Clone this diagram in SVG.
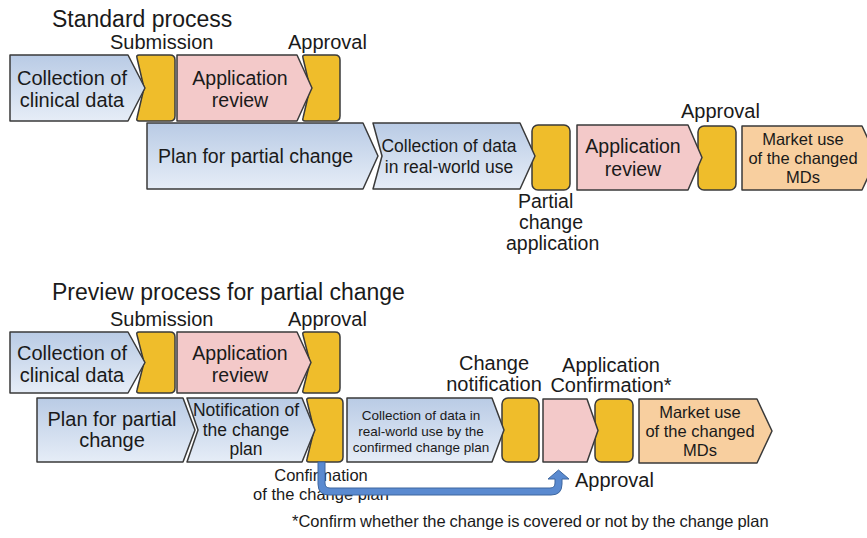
<svg xmlns="http://www.w3.org/2000/svg" width="867" height="538" viewBox="0 0 867 538">
  <defs>
    <linearGradient id="blueFill" x1="0" y1="0" x2="0" y2="1">
      <stop offset="0" stop-color="#b9cbe5"/>
      <stop offset="1" stop-color="#e6edf7"/>
    </linearGradient>
    <style>
      text { font-family: "Liberation Sans", Arial, sans-serif; fill: #1a1a1a; }
      .title { font-size: 23px; }
      .lbl { font-size: 20px; }
      .mid { text-anchor: middle; }
      .shape { stroke: #3a3a3a; stroke-width: 1.5; stroke-linejoin: round; }
      .blue { fill: url(#blueFill); }
      .pink { fill: #f3c9c9; }
      .gold { fill: #efbd2b; }
      .orange { fill: #f8cf9f; }
      .t20 { font-size: 20px; }
      .t19 { font-size: 19.5px; }
      .t17 { font-size: 17.5px; }
      .t16 { font-size: 16.5px; }
      .t13 { font-size: 13.5px; }
      .note { font-size: 16.5px; word-spacing: -0.7px; }
    </style>
  </defs>

  <!-- headings and milestone labels -->
  <text class="title" x="52" y="27">Standard process</text>
  <text class="lbl" x="110" y="49">Submission</text>
  <text class="lbl" x="288" y="49">Approval</text>
  <text class="lbl" x="681" y="118">Approval</text>
  <text class="t19" x="518" y="208">Partial</text>
  <text class="t19" x="519" y="229">change</text>
  <text class="t19" x="506" y="250">application</text>

  <text class="title" x="52" y="300">Preview process for partial change</text>
  <text class="lbl" x="110" y="326">Submission</text>
  <text class="lbl" x="288" y="326">Approval</text>
  <text class="lbl mid" x="494" y="370">Change</text>
  <text class="lbl mid" x="494" y="391">notification</text>
  <text class="lbl mid" x="611" y="372">Application</text>
  <text class="lbl mid" x="611" y="392">Confirmation*</text>
  <text class="lbl" x="575" y="487">Approval</text>
  <text class="t16 mid" x="321" y="481">Confirmation</text>
  <text class="t16 mid" x="321" y="500">of the change plan</text>
  <text class="note" x="292" y="527">*Confirm whether the change is covered or not by the change plan</text>

  <!-- standard process, row 1 -->
  <g id="std-submission">
    <path class="shape gold" d="M139,55 L170,55 Q175,55 175,60 L175,116 Q175,121 170,121 L139,121 Q136,121 137,118 L144,88 L137,58 Q136,55 139,55 Z"/>
  </g>
  <g id="std-approval-1">
    <path class="shape gold" d="M305,55 L335,55 Q340,55 340,60 L340,116 Q340,121 335,121 L305,121 Q302,121 303,118 L310,88 L303,58 Q302,55 305,55 Z"/>
  </g>
  <g id="std-clinical">
    <polygon class="shape blue" points="10,55 128,55 145,88 128,121 10,121"/>
    <text class="t20 mid" x="72" y="85">Collection of</text>
    <text class="t20 mid" x="72" y="107">clinical data</text>
  </g>
  <g id="std-review-1">
    <polygon class="shape pink" points="177,55 297,55 312,88 297,121 177,121"/>
    <text class="t19 mid" x="240" y="85">Application</text>
    <text class="t19 mid" x="240" y="107">review</text>
  </g>

  <!-- standard process, row 2 -->
  <g id="std-partial-app">
    <rect class="shape gold" x="532" y="125" width="38" height="65" rx="6"/>
  </g>
  <g id="std-approval-2">
    <rect class="shape gold" x="698" y="126" width="38" height="64" rx="6"/>
  </g>
  <g id="std-plan">
    <polygon class="shape blue" points="147,123 363,123 378,156 363,189 147,189"/>
    <text class="t19" x="158" y="163">Plan for partial change</text>
  </g>
  <g id="std-realworld">
    <polygon class="shape blue" points="373,123 520,123 535,156 520,189 373,189 382,156"/>
    <text class="t17 mid" x="449" y="152">Collection  of data</text>
    <text class="t17 mid" x="449" y="173">in real-world use</text>
  </g>
  <g id="std-review-2">
    <polygon class="shape pink" points="577,125 688,125 702,157.5 688,190 577,190"/>
    <text class="t19 mid" x="633" y="153">Application</text>
    <text class="t19 mid" x="633" y="176">review</text>
  </g>
  <g id="std-market">
    <polygon class="shape orange" points="742,126 862,126 877,158 862,190 742,190"/>
    <text class="t16 mid" x="803" y="145">Market use</text>
    <text class="t16 mid" x="803" y="164">of the changed</text>
    <text class="t16 mid" x="803" y="183">MDs</text>
  </g>

  <!-- preview process, row 1 -->
  <g id="pre-submission">
    <path class="shape gold" d="M139,332 L170,332 Q175,332 175,337 L175,388 Q175,393 170,393 L139,393 Q136,393 137,390 L144,362.5 L137,335 Q136,332 139,332 Z"/>
  </g>
  <g id="pre-approval">
    <path class="shape gold" d="M305,332 L335,332 Q340,332 340,337 L340,388 Q340,393 335,393 L305,393 Q302,393 303,390 L310,362.5 L303,335 Q302,332 305,332 Z"/>
  </g>
  <g id="pre-clinical">
    <polygon class="shape blue" points="10,332 128,332 145,362.5 128,393 10,393"/>
    <text class="t20 mid" x="72" y="360">Collection of</text>
    <text class="t20 mid" x="72" y="382">clinical data</text>
  </g>
  <g id="pre-review">
    <polygon class="shape pink" points="177,332 297,332 311,362.5 297,393 177,393"/>
    <text class="t19 mid" x="240" y="360">Application</text>
    <text class="t19 mid" x="240" y="382">review</text>
  </g>

  <!-- preview process, row 2 -->
  <g id="pre-confirm">
    <path class="shape gold" d="M309,398 L338,398 Q343,398 343,403 L343,457 Q343,462 338,462 L309,462 Q306,462 307,459 L314,430 L307,401 Q306,398 309,398 Z"/>
  </g>
  <g id="pre-change-notice">
    <rect class="shape gold" x="502" y="398" width="37" height="64" rx="6"/>
  </g>
  <g id="pre-approval-2">
    <rect class="shape gold" x="595" y="399" width="38" height="63" rx="6"/>
  </g>
  <g id="pre-plan">
    <polygon class="shape blue" points="37,398 183,398 195,430 183,462 37,462"/>
    <text class="t20 mid" x="112" y="426">Plan for partial</text>
    <text class="t20 mid" x="112" y="447">change</text>
  </g>
  <g id="pre-notification">
    <polygon class="shape blue" points="187,398 302,398 315,430 302,462 187,462 198,430"/>
    <text class="t17 mid" x="246" y="416">Notification of</text>
    <text class="t17 mid" x="246" y="436">the change</text>
    <text class="t17 mid" x="246" y="455">plan</text>
  </g>
  <g id="pre-realworld">
    <polygon class="shape blue" points="347,398 492,398 504,430 492,462 347,462"/>
    <text class="t13 mid" x="421" y="420">Collection of data in</text>
    <text class="t13 mid" x="421" y="436">real-world use by the</text>
    <text class="t13 mid" x="421" y="452">confirmed change plan</text>
  </g>
  <g id="pre-app-confirm">
    <polygon class="shape pink" points="543,399 587,399 598,430.5 587,462 543,462"/>
  </g>
  <g id="pre-market">
    <polygon class="shape orange" points="639,399 757,399 772,431 757,463 639,463"/>
    <text class="t16 mid" x="700" y="418">Market use</text>
    <text class="t16 mid" x="700" y="437">of the changed</text>
    <text class="t16 mid" x="700" y="456">MDs</text>
  </g>

  <!-- connector: confirmation feeds back to the approval step (drawn over its label) -->
  <g id="connectors">
    <path d="M318,462 L318,484 Q318,495 329,495 L551,495 Q562,495 562,484 L562,479 L569,479 L558.5,470 L548,479 L555,479 L555,483 Q555,488 550,488 L330,488 Q325,488 325,483 L325,462 Z" fill="#5a8ad0" stroke="#3f679f" stroke-width="1"/>
  </g>
</svg>
